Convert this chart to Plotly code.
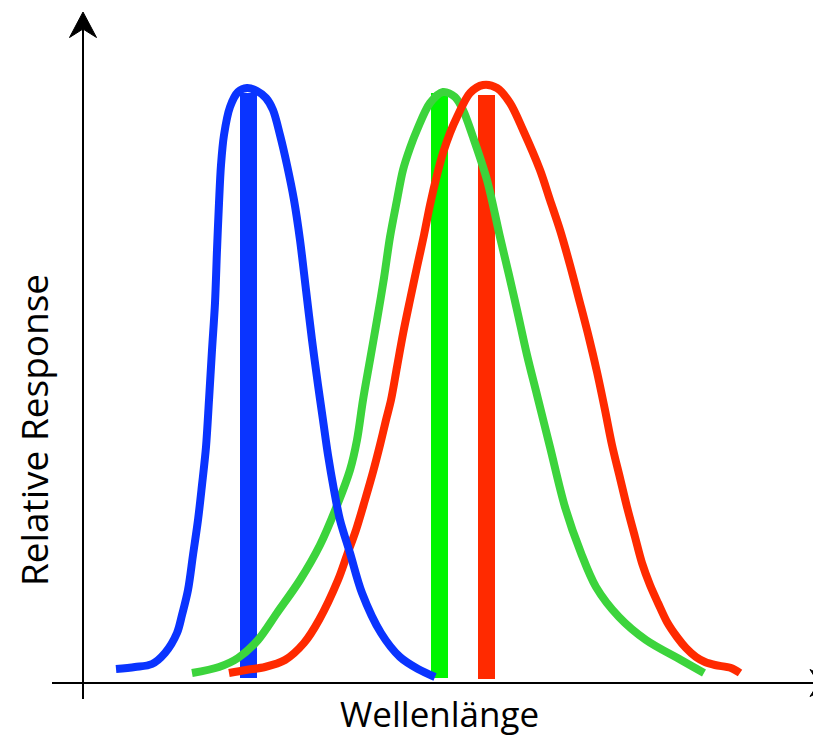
import plotly.graph_objects as go

# ---- data (wavelength position, relative response) ----
blue_x = [33, 52, 69, 82, 94, 99, 105, 110, 115, 119, 123, 126, 129, 132, 134, 136, 138, 141, 147, 155,
          164, 174, 183, 190, 197, 204, 211, 217, 223, 229, 235, 240, 245, 251, 257, 267, 279, 298, 317, 335, 352]
blue_y = [14, 16, 19, 30, 50, 68, 93, 128, 163, 198, 236, 283, 333, 380, 433, 480, 518, 548, 576, 591,
          595, 592, 585, 573, 548, 518, 483, 443, 393, 343, 298, 263, 228, 193, 163, 130, 90, 50, 26, 14, 6]

green_x = [109, 136, 155, 175, 194, 217, 237, 255, 267, 274, 280, 287, 294, 301, 307, 314, 320, 327, 334, 347,
           360, 372, 380, 390, 404, 417, 426, 434, 444, 454, 467, 482, 498, 513, 536, 563, 598, 621]
green_y = [10, 16, 25, 43, 70, 103, 138, 180, 213, 243, 283, 323, 363, 405, 446, 483, 513, 535, 553, 580,
           591, 586, 573, 546, 503, 446, 408, 373, 328, 288, 236, 176, 130, 96, 66, 43, 23, 10]

red_x = [146, 163, 182, 202, 221, 236, 255, 264, 273, 282, 290, 297, 303, 308, 314, 320, 327, 334, 341, 347,
         354, 360, 367, 374, 387, 400, 414, 427, 440, 457, 467, 477, 487, 497, 506, 514, 522, 529, 537, 544,
         552, 559, 567, 575, 584, 594, 603, 613, 622, 632, 648, 657]
red_y = [10, 13, 16, 23, 40, 63, 103, 128, 153, 183, 211, 238, 263, 283, 316, 349, 383, 416, 448, 478,
         508, 530, 550, 566, 590, 598, 595, 580, 553, 513, 483, 453, 418, 380, 345, 311, 273, 238, 205, 176,
         146, 120, 98, 80, 61, 46, 35, 26, 21, 18, 15, 10]

# peak wavelength markers: center, top, base
peak_x = [165.5, 356.5, 403.5]
peak_top = [590, 590, 588]
peak_base = [5, 5, 4]
peak_colors = ["#0a34ff", "#00f500", "#ff2a00"]

x_label = "Wellenlänge"
y_label = "Relative Response"

fig = go.Figure()
for xs, ys, col in [(green_x, green_y, "#3cd43c"), (red_x, red_y, "#ff2a00"), (blue_x, blue_y, "#0a34ff")]:
    fig.add_trace(go.Scatter(x=xs, y=ys, mode="lines",
                             line=dict(color=col, width=8, shape="spline", smoothing=0.9),
                             hoverinfo="skip", showlegend=False))

fig.add_trace(go.Bar(x=peak_x, y=[t - b for t, b in zip(peak_top, peak_base)], base=peak_base,
                     width=17, marker=dict(color=peak_colors, line=dict(width=0)),
                     showlegend=False, hoverinfo="skip"))

# axes with arrows
ax_col = "black"
fig.add_shape(type="line", x0=0, y0=-16, x1=0, y1=656, line=dict(color=ax_col, width=2))
fig.add_shape(type="line", x0=-31, y0=0, x1=745, y1=0, line=dict(color=ax_col, width=2))
fig.add_shape(type="path", path="M 0 671 L -13.5 645.5 L 0 654 L 13.5 645.5 Z",
              fillcolor=ax_col, line=dict(color=ax_col, width=1))
fig.add_shape(type="path", path="M 752.5 0 L 727 13.5 L 735.5 0 L 727 -13.5 Z",
              fillcolor=ax_col, line=dict(color=ax_col, width=1))

fig.add_annotation(x=356, y=-30, text=x_label, showarrow=False,
                   font=dict(family="Open Sans", size=35, color="black"),
                   xanchor="center", yanchor="middle")
fig.add_annotation(x=-50, y=253, text=y_label, showarrow=False, textangle=-90,
                   font=dict(family="Open Sans", size=37, color="black"),
                   xanchor="center", yanchor="middle")

# page has an 8px body margin, so the figure area starts at page pixel (8, 8)
fig.update_layout(
    width=813, height=730,
    margin=dict(l=0, r=0, t=0, b=0),
    paper_bgcolor="white", plot_bgcolor="white",
    xaxis=dict(range=[-75, 738], visible=False, fixedrange=True),
    yaxis=dict(range=[-55, 675], visible=False, fixedrange=True),
    bargap=0,
)
fig.write_html("out.html")
